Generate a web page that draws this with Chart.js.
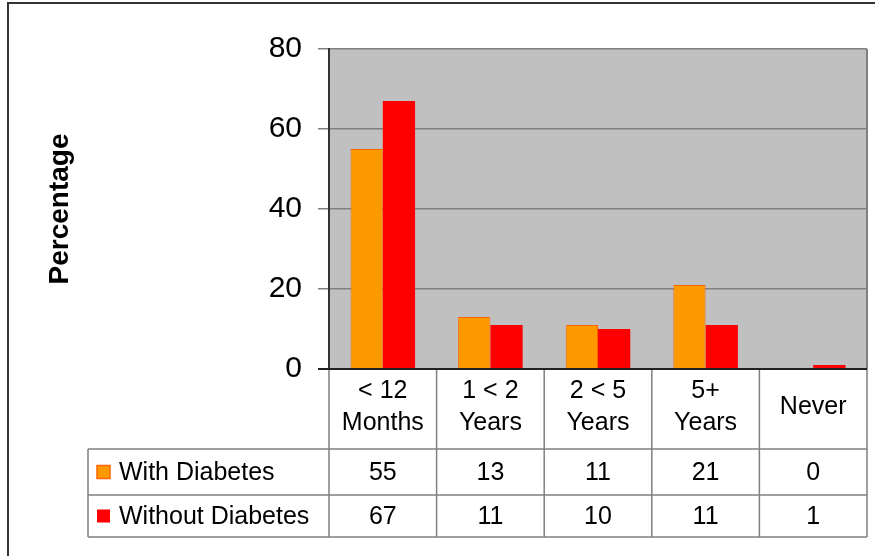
<!DOCTYPE html>
<html>
<head>
<meta charset="utf-8">
<script src="https://cdn.jsdelivr.net/npm/chart.js@4"></script>
<style>
  html, body { margin: 0; padding: 0; background: #fff; }
  canvas { display: block; }
</style>
</head>
<body>
<canvas id="chart" width="875" height="556"></canvas>
<script>
// categories + series
const categories = [["< 12", "Months"], ["1 < 2", "Years"], ["2 < 5", "Years"], ["5+", "Years"], "Never"];
const seriesNames = ["With Diabetes", "Without Diabetes"];
const withDiabetes = [55, 13, 11, 21, 0];
const withoutDiabetes = [67, 11, 10, 11, 1];
const yTicks = [0, 20, 40, 60, 80];

const FONT = "'Liberation Sans', Arial, sans-serif";
const LINE = "#808080";

// frame, grey plot background and the data table underneath
const tablePlugin = {
  id: "tablePlugin",
  beforeDraw(chart) {
    const { ctx, chartArea: a } = chart;
    ctx.save();
    ctx.fillStyle = "#C0C0C0";
    ctx.fillRect(a.left, a.top, a.right - a.left, a.bottom - a.top);
    ctx.restore();
  },
  afterDraw(chart) {
    const { ctx, chartArea: a } = chart;
    const x = chart.scales.x;
    const rowTop = [449, 495];
    const rowBot = 537;
    const tableLeft = 88;

    ctx.save();
    // plot right edge
    ctx.strokeStyle = LINE;
    ctx.lineWidth = 2;
    ctx.beginPath();
    ctx.moveTo(a.right, a.top);
    ctx.lineTo(a.right, a.bottom);
    ctx.stroke();

    // table lines
    ctx.lineWidth = 1.5;
    ctx.beginPath();
    [rowTop[0], rowTop[1], rowBot].forEach(y => {
      ctx.moveTo(tableLeft, y);
      ctx.lineTo(a.right, y);
    });
    ctx.moveTo(tableLeft, rowTop[0]);
    ctx.lineTo(tableLeft, rowBot);
    const step = (a.right - a.left) / categories.length;
    for (let i = 0; i <= categories.length; i++) {
      const px = a.left + i * step;
      ctx.moveTo(px, a.bottom);
      ctx.lineTo(px, rowBot);
    }
    ctx.stroke();

    // axis line on top
    ctx.strokeStyle = "#222";
    ctx.lineWidth = 2;
    ctx.beginPath();
    ctx.moveTo(a.left - 11, a.bottom);
    ctx.lineTo(a.right, a.bottom);
    ctx.stroke();

    // legend + values
    ctx.font = "25px " + FONT;
    ctx.textBaseline = "middle";
    chart.data.datasets.forEach((ds, r) => {
      const cy = (rowTop[r] + (r === 0 ? rowTop[1] : rowBot)) / 2;
      ctx.fillStyle = ds.backgroundColor;
      ctx.fillRect(97, cy - 6.5, 13, 13);
      if (ds.borderWidth) {
        ctx.strokeStyle = ds.borderColor;
        ctx.lineWidth = 1.5;
        ctx.strokeRect(97, cy - 6.5, 13, 13);
      }
      ctx.fillStyle = "#000";
      ctx.textAlign = "left";
      ctx.fillText(ds.label, 119, cy + 1);
      ctx.textAlign = "center";
      ds.data.forEach((v, i) => {
        ctx.fillText(String(v), x.getPixelForValue(i), cy + 1);
      });
    });

    // outer frame
    ctx.strokeStyle = "#333";
    ctx.lineWidth = 2;
    ctx.beginPath();
    ctx.moveTo(8, 556);
    ctx.lineTo(8, 3);
    ctx.lineTo(875, 3);
    ctx.stroke();
    ctx.restore();
  }
};

new Chart(document.getElementById("chart"), {
  type: "bar",
  data: {
    labels: categories,
    datasets: [
      {
        label: seriesNames[0],
        data: withDiabetes,
        backgroundColor: "#FF9900",
        borderColor: "#FF6600",
        borderWidth: 1,
        borderSkipped: "bottom"
      },
      {
        label: seriesNames[1],
        data: withoutDiabetes,
        backgroundColor: "#FF0000",
        borderWidth: 0
      }
    ]
  },
  options: {
    responsive: false,
    animation: false,
    devicePixelRatio: 1,
    layout: { padding: { top: 49, right: 8, bottom: 0, left: 0 } },
    categoryPercentage: 0.6,
    barPercentage: 1.0,
    plugins: {
      legend: { display: false },
      tooltip: { enabled: false }
    },
    scales: {
      x: {
        grid: { display: false, drawTicks: false },
        border: { display: false },
        ticks: {
          color: "#000",
          font: { family: FONT, size: 25, lineHeight: 1.3 },
          padding: 22,
          crossAlign: "center",
          maxRotation: 0,
          autoSkip: false
        },
        afterFit(scale) { scale.height = 187; }
      },
      y: {
        min: 0,
        max: 80,
        afterBuildTicks(scale) { scale.ticks = yTicks.map(v => ({ value: v })); },
        grid: { color: LINE, lineWidth: 1.5, tickLength: 11, drawTicks: true },
        border: { color: "#333", width: 2 },
        ticks: {
          color: "#000",
          font: { family: FONT, size: 30 },
          padding: 16
        },
        title: {
          display: true,
          text: "Percentage",
          color: "#000",
          font: { family: FONT, size: 28, weight: "bold", lineHeight: 1.2 },
          padding: { top: 43, bottom: 0 }
        },
        afterFit(scale) { scale.width = 329; }
      }
    }
  },
  plugins: [tablePlugin]
});
</script>
</body>
</html>
